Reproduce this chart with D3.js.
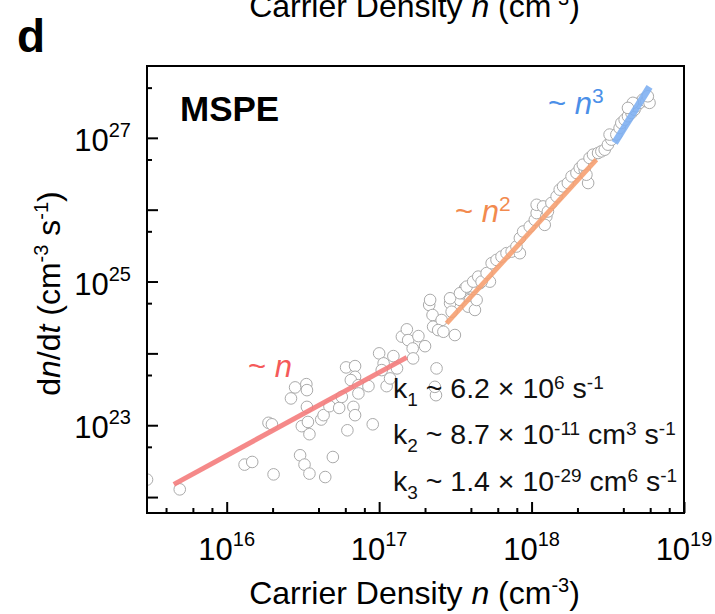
<!DOCTYPE html>
<html>
<head>
<meta charset="utf-8">
<script src="https://cdn.jsdelivr.net/npm/d3@7"></script>
<style>
  body { margin: 0; background: #fff; }
  svg text { font-family: "Liberation Sans", Arial, sans-serif; white-space: pre; }
</style>
</head>
<body>
<svg id="chart" width="715" height="614"></svg>
<script>
// ---- data ----
var xMajor = [1e16, 1e17, 1e18, 1e19];
var xMinor = [4e15, 6e15, 8e15, 2e16, 4e16, 6e16, 8e16, 2e17, 4e17, 6e17, 8e17, 2e18, 4e18, 6e18, 8e18];
var yMajor = [1e22, 1e23, 1e24, 1e25, 1e26, 1e27];
var yLabeled = [1e23, 1e25, 1e27];
var yMinor = [5e22, 5e23, 5e24, 5e25, 5e26, 5e27];

var density = [
  3.0e15, 4.92e15, 1.31e16, 1.47e16, 2.03e16, 1.88e16, 1.98e16, 2.64e16, 2.81e16, 3.33e16,
  3.36e16, 3.36e16, 3.11e16, 3.49e16, 3.41e16, 3.03e16, 3.24e16, 3.49e16, 4.43e16, 4.97e16,
  4.17e16, 4.32e16, 4.72e16, 5.47e16, 5.69e16, 6.07e16, 6.95e16, 6.95e16, 6.52e16, 7.31e16,
  7.31e16, 6.78e16, 6.95e16, 6.19e16, 8.51e16, 9.08e16, 1.00e17, 1.07e17, 1.04e17, 1.12e17,
  1.24e17, 1.31e17, 1.18e17, 1.41e17, 1.52e17, 1.55e17, 1.66e17, 1.67e17, 1.81e17, 2.00e17,
  2.13e17, 2.24e17, 2.26e17, 2.38e17, 2.36e17,
  2.57e17, 2.44e17, 2.64e17, 3.14e17, 2.92e17, 2.99e17, 3.39e17, 3.56e17, 3.94e17, 3.84e17,
  4.25e17, 4.36e17, 3.66e17, 4.14e17, 4.58e17, 5.33e17, 2.32e17,
  2.16e17, 2.92e17, 3.39e17, 3.75e17, 4.14e17, 4.47e17, 4.70e17, 5.07e17, 5.47e17, 5.89e17,
  6.35e17, 6.85e17, 7.40e17, 8.38e17, 7.96e17, 8.38e17, 8.81e17, 9.73e17, 1.05e18, 1.08e18,
  1.08e18, 1.19e18, 1.25e18, 1.22e18, 1.28e18, 1.35e18, 1.46e18, 1.53e18, 1.61e18, 1.73e18,
  1.83e18, 1.97e18, 2.07e18, 2.23e18, 2.35e18, 2.29e18, 2.17e18, 2.40e18, 2.53e18, 2.73e18,
  2.87e18, 3.02e18, 3.17e18, 3.34e18, 3.25e18, 3.60e18, 3.78e18, 3.88e18, 4.08e18, 4.29e18,
  4.52e18, 4.74e18, 4.86e18, 5.12e18, 5.37e18, 5.66e18, 5.94e18, 5.79e18, 4.62e18, 4.29e18
];
var rate = [
  1.75e22, 1.28e22, 2.83e22, 3.08e22, 2.07e22, 1.08e23, 1.03e23, 2.36e23, 3.36e23, 3.73e23,
  3.08e23, 1.80e23, 9.7e22, 7.5e22, 1.11e23, 3.82e22, 2.83e22, 2.12e22, 1.90e22, 3.61e22,
  1.20e23, 1.38e23, 1.84e23, 1.74e23, 2.48e23, 6.38e23, 6.65e23, 4.72e23, 4.25e23, 3.61e23,
  2.77e23, 1.80e23, 1.38e23, 8.5e22, 3.50e23, 1.03e23, 1.00e24, 7.26e23, 5.85e23, 3.50e23,
  9.16e23, 6.18e23, 4.48e23, 1.71e24, 2.16e24, 1.53e24, 1.17e24, 8.51e23, 1.74e24, 1.26e24,
  4.72e24, 3.42e24, 2.35e24, 6.18e23, 2.62e23,
  2.91e24, 2.11e24, 2.00e24, 1.80e24, 4.98e24, 3.80e24, 5.54e24, 6.87e24, 5.54e24, 4.47e24,
  4.02e24, 5.54e24, 8.07e24, 8.49e24, 9.47e24, 9.97e24, 3.42e23,
  5.54e24, 5.85e24, 6.87e24, 8.49e24, 9.97e24, 1.17e25, 9.97e24, 1.31e25, 1.80e25, 2.00e25,
  2.22e25, 2.48e25, 2.61e25, 2.48e25, 3.07e25, 4.02e25, 4.97e25, 5.83e25, 7.23e25, 8.97e25,
  1.17e26, 1.11e26, 8.04e25, 6.15e25, 9.44e25, 1.24e26, 1.53e26, 1.90e26, 2.11e26, 2.35e26,
  2.91e26, 3.24e26, 3.80e26, 3.60e26, 2.35e26, 3.07e26, 4.23e26, 5.25e26, 5.83e26, 6.15e26,
  6.49e26, 6.84e26, 8.04e26, 9.44e26, 1.11e27, 1.11e27, 1.37e27, 1.61e27, 1.79e27, 2.00e27,
  2.22e27, 2.47e27, 2.75e27, 3.07e27, 3.41e27, 3.23e27, 3.07e27, 3.79e27, 3.07e27, 2.61e27
];

// power-law fits: [start, end] of each segment
var fitDensity = [[4.5e15, 1.52e17], [2.77e17, 2.66e18], [3.51e18, 5.94e18]];
var fitRate = [[1.5e22, 8.8e23], [2.62e24, 4.97e26], [8.49e26, 5.13e27]];

// ---- layout ----
var plot = {left: 147, right: 684, top: 66, bottom: 513};
var FONT = 31;

var svg = d3.select('#chart');

var x = d3.scaleLog().domain([3e15, 1e19]).range([plot.left, plot.right]);
var y = d3.scaleLog().domain([6e21, 1e28]).range([plot.bottom, plot.top]);

// text with super/subscripts: parts = [[string, kind]], kind '' | 'i' | 'sup' | 'sub'
function rich(text, parts, opt){
  var shift = 0;
  parts.forEach(function(p){
    var t = text.append('tspan').text(p[0]);
    var target = 0;
    if (p[1] === 'sup') { target = -opt.raise; t.attr('font-size', opt.small); }
    if (p[1] === 'sub') { target = opt.drop; t.attr('font-size', opt.small); }
    if (p[1] === 'i') t.style('font-style', 'italic');
    if (target !== shift) { t.attr('dy', target - shift); shift = target; }
  });
  return text;
}

svg.append('defs').append('clipPath').attr('id', 'clip')
  .append('rect')
  .attr('x', plot.left).attr('y', plot.top)
  .attr('width', plot.right - plot.left).attr('height', plot.bottom - plot.top);

var g = svg.append('g').attr('clip-path', 'url(#clip)');

// points
var pts = density.map(function(d, i){ return {n: d, r: rate[i]}; });
g.selectAll('circle.pt')
  .data(pts)
  .enter().append('circle')
  .attr('class', 'pt')
  .attr('cx', function(d){ return x(d.n); })
  .attr('cy', function(d){ return y(d.r); })
  .attr('r', 5.8)
  .attr('fill', '#fff')
  .attr('stroke', '#aaaaaa')
  .attr('stroke-width', 1);

// fit lines
var fitColors = ['#f47c7c', '#f6a071', '#80b0f2'];
var fitWidths = [5, 5, 7];
fitDensity.forEach(function(nn, i){
  g.append('line')
    .attr('x1', x(nn[0])).attr('y1', y(fitRate[i][0]))
    .attr('x2', x(nn[1])).attr('y2', y(fitRate[i][1]))
    .attr('stroke', fitColors[i])
    .attr('stroke-width', fitWidths[i])
    .attr('stroke-opacity', 0.9);
});

// axes: inward ticks, labels drawn separately
function styleAxis(sel){
  sel.select('.domain').remove();
  sel.selectAll('.tick line').attr('stroke', '#000').attr('stroke-width', 2);
  sel.selectAll('.tick text').remove();
}
svg.append('g')
  .attr('transform', 'translate(0,' + plot.bottom + ')')
  .call(d3.axisBottom(x).tickValues(xMajor).tickSize(-11).tickFormat(''))
  .call(styleAxis);
svg.append('g')
  .attr('transform', 'translate(0,' + plot.bottom + ')')
  .call(d3.axisBottom(x).tickValues(xMinor).tickSize(-5).tickFormat(''))
  .call(styleAxis);
svg.append('g')
  .attr('transform', 'translate(' + plot.left + ',0)')
  .call(d3.axisLeft(y).tickValues(yMajor).tickSize(-11).tickFormat(''))
  .call(styleAxis);
svg.append('g')
  .attr('transform', 'translate(' + plot.left + ',0)')
  .call(d3.axisLeft(y).tickValues(yMinor).tickSize(-5).tickFormat(''))
  .call(styleAxis);

// tick labels
var tickOpt = {raise: 14, small: 20};
xMajor.forEach(function(v){
  var t = svg.append('text')
    .attr('x', x(v)).attr('y', plot.bottom + 47)
    .attr('text-anchor', 'middle')
    .attr('font-size', FONT);
  rich(t, [['10', ''], [String(Math.round(Math.log10(v))), 'sup']], tickOpt);
});
yLabeled.forEach(function(v){
  var t = svg.append('text')
    .attr('x', 131).attr('y', y(v) + 13)
    .attr('text-anchor', 'end')
    .attr('font-size', FONT);
  rich(t, [['10', ''], [String(Math.round(Math.log10(v))), 'sup']], tickOpt);
});

// frame
svg.append('rect')
  .attr('x', plot.left).attr('y', plot.top)
  .attr('width', plot.right - plot.left).attr('height', plot.bottom - plot.top)
  .attr('fill', 'none').attr('stroke', '#000').attr('stroke-width', 2);

// axis titles (the top one is cut by the figure edge, as in the source)
var titleOpt = {raise: 12, small: 20};
var xTitle = [['Carrier Density ', ''], ['n', 'i'], [' (cm', ''], ['-3', 'sup'], [')', '']];
[604, 17].forEach(function(base){
  var t = svg.append('text')
    .attr('x', 414.5).attr('y', base)
    .attr('text-anchor', 'middle')
    .attr('font-size', 32);
  rich(t, xTitle, titleOpt);
});
var yt = svg.append('text')
  .attr('transform', 'translate(60,' + ((plot.top + plot.bottom) / 2 + 4) + ') rotate(-90)')
  .attr('text-anchor', 'middle')
  .attr('font-size', 32);
rich(yt, [['d', ''], ['n', 'i'], ['/d', ''], ['t', 'i'], [' (cm', ''], ['-3', 'sup'], [' s', ''], ['-1', 'sup'], [')', '']], {raise: 12, small: 20});

// panel letter and sample name
svg.append('text').attr('x', 17).attr('y', 52)
  .attr('font-size', 46).attr('font-weight', 'bold').text('d');
svg.append('text').attr('x', 180).attr('y', 121)
  .attr('font-size', 35).attr('font-weight', 'bold').text('MSPE');

// slope labels
var slopeOpt = {raise: 11, small: 21};
var slopeLabels = [
  {x: 248, y: 377, color: '#f55a5a', parts: [['~ ', ''], ['n', 'i']]},
  {x: 455, y: 222, color: '#f28a4e', parts: [['~ ', ''], ['n', 'i'], ['2', 'sup']]},
  {x: 548, y: 114, color: '#4b8fe8', parts: [['~ ', ''], ['n', 'i'], ['3', 'sup']]}
];
slopeLabels.forEach(function(s){
  var t = svg.append('text').attr('x', s.x).attr('y', s.y)
    .attr('font-size', 31).attr('fill', s.color);
  rich(t, s.parts, slopeOpt);
});

// rate constants
var kOpt = {raise: 9, drop: 8, small: 19};
var kLines = [
  [['k', ''], ['1', 'sub'], [' ~ 6.2 \u00d7 10', ''], ['6', 'sup'], [' s', ''], ['-1', 'sup']],
  [['k', ''], ['2', 'sub'], [' ~ 8.7 \u00d7 10', ''], ['-11', 'sup'], [' cm', ''], ['3', 'sup'], [' s', ''], ['-1', 'sup']],
  [['k', ''], ['3', 'sub'], [' ~ 1.4 \u00d7 10', ''], ['-29', 'sup'], [' cm', ''], ['6', 'sup'], [' s', ''], ['-1', 'sup']]
];
kLines.forEach(function(parts, i){
  var t = svg.append('text').attr('x', 393).attr('y', 398 + i * 46.3)
    .attr('font-size', 28.5).attr('fill', '#111');
  rich(t, parts, kOpt);
});
</script>
</body>
</html>
